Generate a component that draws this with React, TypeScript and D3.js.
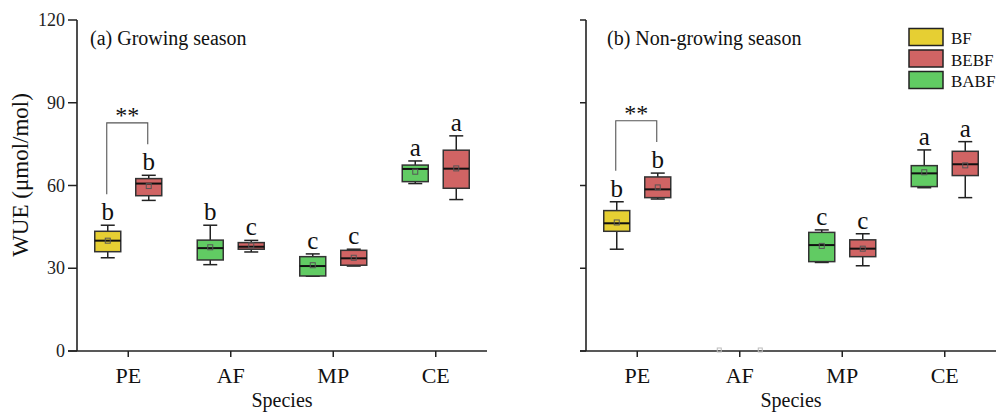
import React from "react";
import * as d3 from "d3";

const species = ["PE", "AF", "MP", "CE"];
const groups = ["BF", "BEBF", "BABF"];
const groupColors = ["#E6CF33", "#D06464", "#61CB63"];
const yTicks = [0, 30, 60, 90, 120];

// each row: species, group, slot (0 = left, 1 = right), [low, q1, median, q3, high], mean, letter
type Box = { sp: string; g: string; slot: number; s: number[] | null; mean: number; letter: string };

const growingBoxes: Box[] = [
  { sp: "PE", g: "BF", slot: 0, s: [33.8, 36.0, 40.0, 43.4, 45.6], mean: 40.0, letter: "b" },
  { sp: "PE", g: "BEBF", slot: 1, s: [54.6, 56.3, 60.7, 62.5, 63.7], mean: 59.8, letter: "b" },
  { sp: "AF", g: "BABF", slot: 0, s: [31.3, 33.0, 37.3, 40.2, 45.6], mean: 37.6, letter: "b" },
  { sp: "AF", g: "BEBF", slot: 1, s: [35.9, 36.9, 37.8, 39.3, 40.1], mean: 38.3, letter: "c" },
  { sp: "MP", g: "BABF", slot: 0, s: [27.1, 27.2, 30.8, 34.2, 35.2], mean: 31.1, letter: "c" },
  { sp: "MP", g: "BEBF", slot: 1, s: [30.8, 31.1, 33.6, 36.5, 36.9], mean: 33.8, letter: "c" },
  { sp: "CE", g: "BABF", slot: 0, s: [60.7, 61.4, 66.0, 67.4, 68.9], mean: 65.0, letter: "a" },
  { sp: "CE", g: "BEBF", slot: 1, s: [54.9, 59.0, 66.1, 72.8, 78.0], mean: 66.2, letter: "a" },
];

const nonGrowingBoxes: Box[] = [
  { sp: "PE", g: "BF", slot: 0, s: [36.9, 43.4, 46.3, 50.9, 54.1], mean: 46.6, letter: "b" },
  { sp: "PE", g: "BEBF", slot: 1, s: [55.1, 55.6, 58.6, 63.1, 64.5], mean: 59.3, letter: "b" },
  { sp: "AF", g: "BABF", slot: 0, s: null, mean: 0, letter: "" },
  { sp: "AF", g: "BEBF", slot: 1, s: null, mean: 0, letter: "" },
  { sp: "MP", g: "BABF", slot: 0, s: [32.1, 32.4, 38.4, 43.0, 43.9], mean: 38.1, letter: "c" },
  { sp: "MP", g: "BEBF", slot: 1, s: [30.9, 34.2, 37.1, 40.3, 42.5], mean: 37.1, letter: "c" },
  { sp: "CE", g: "BABF", slot: 0, s: [59.2, 59.6, 64.4, 67.2, 72.9], mean: 64.8, letter: "a" },
  { sp: "CE", g: "BEBF", slot: 1, s: [55.6, 63.6, 67.7, 72.4, 75.9], mean: 67.3, letter: "a" },
];

const panelTitles = ["(a) Growing season", "(b) Non-growing season"];
const bracketSpecies = ["PE", "PE"];
const bracketTops = [82.7, 83.5];
const bracketLabels = ["**", "**"];

const FONT = "'Liberation Serif', 'Times New Roman', serif";
const W = 997;
const H = 412;
const y = d3.scaleLinear().domain([0, 120]).range([351, 20]);
const panelRanges: [number, number][] = [
  [77, 487],
  [586, 996],
];
const SLOT_OFF = 20.5;
const BOX_W = 26;
const CAP_W = 14;

function Panel({ idx, boxes }: { idx: number; boxes: Box[] }) {
  const x = d3.scaleBand<string>().domain(species).range(panelRanges[idx]).padding(0);
  const cx = (sp: string) => (x(sp) as number) + x.bandwidth() / 2;
  const x0 = panelRanges[idx][0];
  const x1 = panelRanges[idx][1];
  const tickLen = idx === 0 ? 9 : 6;
  const colorOf = (g: string) => groupColors[groups.indexOf(g)];
  const bSp = bracketSpecies[idx];
  const bl = boxes.find((b) => b.sp === bSp && b.slot === 0)!;
  const br = boxes.find((b) => b.sp === bSp && b.slot === 1)!;
  const blx = cx(bSp) - SLOT_OFF - 1;
  const brx = cx(bSp) + SLOT_OFF - 1;
  const bty = y(bracketTops[idx]);
  return (
    <g>
      {/* axes */}
      <line x1={x0} x2={x0} y1={y(120)} y2={y(0)} stroke="#222" strokeWidth={1.6} />
      <line x1={x0 - tickLen} x2={x1} y1={y(0)} y2={y(0)} stroke="#222" strokeWidth={1.6} />
      {yTicks.map((t) => (
        <g key={t}>
          <line x1={x0 - tickLen} x2={x0} y1={y(t)} y2={y(t)} stroke="#222" strokeWidth={1.5} />
          {idx === 0 && (
            <text x={x0 - 12} y={y(t)} dy="0.34em" textAnchor="end" fontSize={18} fontFamily={FONT} fill="#222">
              {t}
            </text>
          )}
        </g>
      ))}
      {species.map((sp) => (
        <g key={sp}>
          <line x1={cx(sp)} x2={cx(sp)} y1={y(0)} y2={y(0) + 6} stroke="#222" strokeWidth={1.5} />
          <text x={cx(sp)} y={383} textAnchor="middle" fontSize={22} fontFamily={FONT} fill="#111">
            {sp}
          </text>
        </g>
      ))}
      <text x={(x0 + x1) / 2} y={406.5} textAnchor="middle" fontSize={20} fontFamily={FONT} fill="#111">
        Species
      </text>
      <text x={x0 + (idx === 0 ? 13 : 21)} y={44.5} fontSize={20} fontFamily={FONT} fill="#111">
        {panelTitles[idx]}
      </text>
      {/* boxes */}
      {boxes.map((b, i) => {
        const bx = cx(b.sp) + (b.slot === 0 ? -SLOT_OFF : SLOT_OFF);
        if (!b.s) {
          return (
            <rect key={i} x={bx - 2} y={y(b.mean) - 3} width={4} height={4} fill="none" stroke="#bbb" strokeWidth={1} />
          );
        }
        const [lo, q1, med, q3, hi] = b.s;
        return (
          <g key={i}>
            <line x1={bx} x2={bx} y1={y(hi)} y2={y(q3)} stroke="#222" strokeWidth={1.5} />
            <line x1={bx} x2={bx} y1={y(q1)} y2={y(lo)} stroke="#222" strokeWidth={1.5} />
            <line x1={bx - CAP_W / 2} x2={bx + CAP_W / 2} y1={y(hi)} y2={y(hi)} stroke="#222" strokeWidth={1.5} />
            <line x1={bx - CAP_W / 2} x2={bx + CAP_W / 2} y1={y(lo)} y2={y(lo)} stroke="#222" strokeWidth={1.5} />
            <rect
              x={bx - BOX_W / 2}
              y={y(q3)}
              width={BOX_W}
              height={y(q1) - y(q3)}
              fill={colorOf(b.g)}
              stroke="#333"
              strokeWidth={1.5}
            />
            <line x1={bx - BOX_W / 2} x2={bx + BOX_W / 2} y1={y(med)} y2={y(med)} stroke="#111" strokeWidth={2} />
            <rect x={bx - 2.5} y={y(b.mean) - 2.5} width={5} height={5} fill="none" stroke="#555" strokeWidth={1} />
            <text x={bx} y={y(hi) - 5} textAnchor="middle" fontSize={25} fontFamily={FONT} fill="#111">
              {b.letter}
            </text>
          </g>
        );
      })}
      {/* significance bracket */}
      <path
        d={`M${blx},${y(bl.s![4]) - 31}V${bty}H${brx}V${y(br.s![4]) - 31}`}
        fill="none"
        stroke="#555"
        strokeWidth={1.1}
      />
      <text x={(blx + brx) / 2} y={bty} textAnchor="middle" fontSize={24} fontFamily={FONT} fill="#111">
        {bracketLabels[idx]}
      </text>
    </g>
  );
}

export default function App() {
  return (
    <svg
      width={W}
      height={H}
      viewBox={`0 0 ${W} ${H}`}
      style={{ position: "absolute", left: 0, top: 0, background: "#fff" }}
    >
      <rect x={0} y={0} width={W} height={H} fill="#fff" />
      <text
        transform={`translate(28,175) rotate(-90)`}
        textAnchor="middle"
        fontSize={23}
        fontFamily={FONT}
        fill="#111"
      >
        WUE (μmol/mol)
      </text>
      <Panel idx={0} boxes={growingBoxes} />
      <Panel idx={1} boxes={nonGrowingBoxes} />
      {/* legend */}
      {groups.map((g, i) => (
        <g key={g}>
          <rect x={909} y={28.5 + i * 21.5} width={34} height={17} fill={groupColors[i]} stroke="#222" strokeWidth={1.5} />
          <text x={951} y={44 + i * 21.5} fontSize={17} fontFamily={FONT} fill="#111">
            {g}
          </text>
        </g>
      ))}
    </svg>
  );
}
